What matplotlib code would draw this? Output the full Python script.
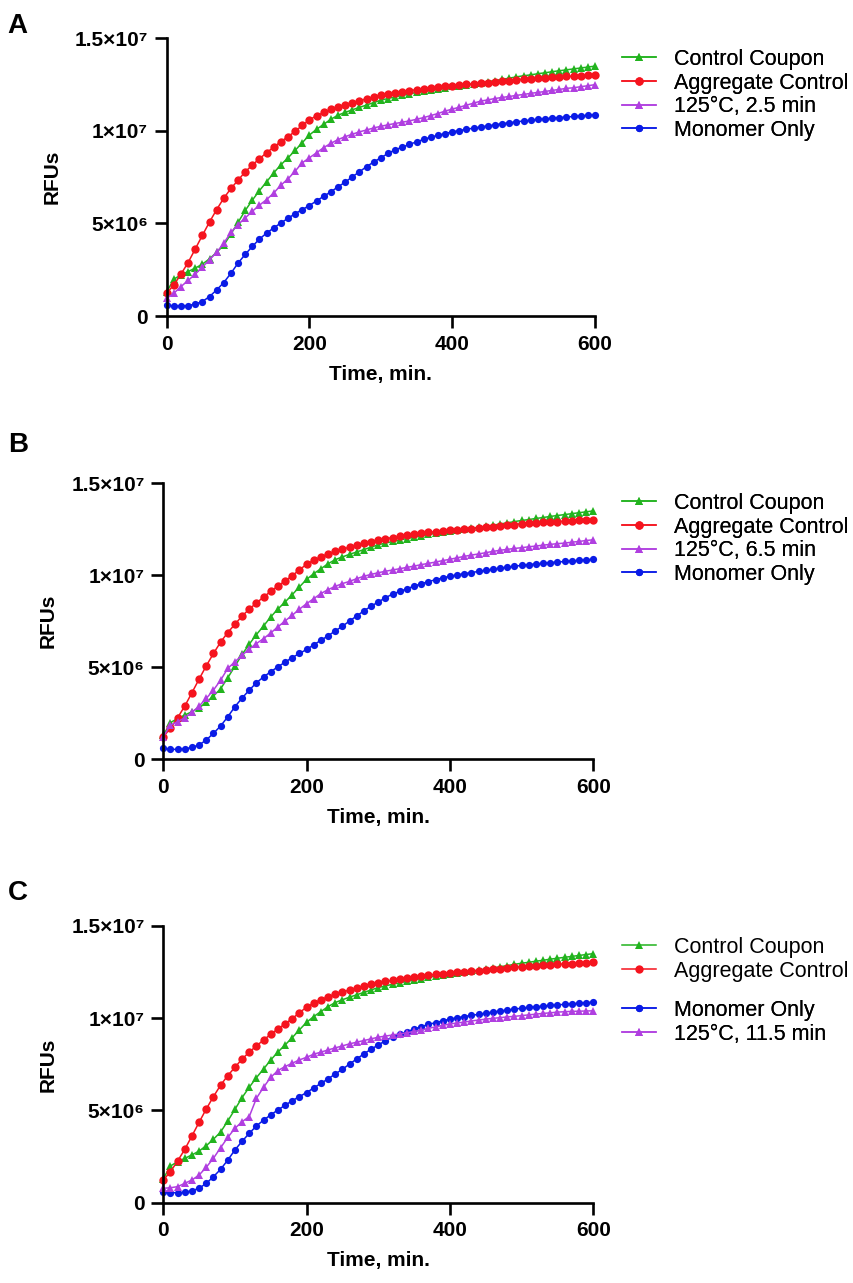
import matplotlib
matplotlib.use("Agg")
import matplotlib.pyplot as plt
import numpy as np

plt.rcParams["font.family"] = ["Liberation Sans", "DejaVu Sans"]

# time points, min
time = list(range(0, 601, 10))

# RFU values in units of 1e6
control_coupon = [1.30, 1.99, 2.22, 2.40, 2.59, 2.80, 3.09, 3.44, 3.83, 4.43,
                  5.06, 5.70, 6.26, 6.78, 7.25, 7.74, 8.17, 8.55, 8.95, 9.37,
                  9.78, 10.09, 10.36, 10.63, 10.85, 11.00, 11.14, 11.27, 11.40, 11.53,
                  11.66, 11.75, 11.84, 11.92, 12.00, 12.08, 12.15, 12.22, 12.28, 12.34,
                  12.40, 12.45, 12.50, 12.56, 12.61, 12.66, 12.72, 12.79, 12.85, 12.92,
                  12.98, 13.03, 13.09, 13.14, 13.20, 13.25, 13.30, 13.35, 13.40, 13.45,
                  13.50]
aggregate_control = [1.23, 1.68, 2.26, 2.89, 3.62, 4.36, 5.08, 5.75, 6.37, 6.89,
                     7.34, 7.79, 8.16, 8.50, 8.82, 9.13, 9.42, 9.69, 9.98, 10.30,
                     10.60, 10.82, 11.00, 11.16, 11.30, 11.42, 11.53, 11.63, 11.73, 11.83,
                     11.92, 11.99, 12.05, 12.11, 12.17, 12.23, 12.28, 12.33, 12.37, 12.41,
                     12.45, 12.48, 12.51, 12.54, 12.57, 12.60, 12.64, 12.68, 12.72, 12.75,
                     12.79, 12.82, 12.85, 12.87, 12.90, 12.92, 12.94, 12.96, 12.98, 13.00,
                     13.02]
monomer_only = [0.60, 0.54, 0.54, 0.56, 0.65, 0.78, 1.05, 1.41, 1.81, 2.31,
                2.86, 3.33, 3.76, 4.16, 4.48, 4.76, 5.03, 5.28, 5.53, 5.75,
                5.97, 6.22, 6.47, 6.71, 6.98, 7.23, 7.52, 7.79, 8.07, 8.32,
                8.55, 8.78, 8.98, 9.12, 9.27, 9.41, 9.54, 9.66, 9.76, 9.86,
                9.95, 10.02, 10.09, 10.15, 10.21, 10.27, 10.33, 10.39, 10.44, 10.49,
                10.54, 10.58, 10.62, 10.65, 10.69, 10.72, 10.75, 10.78, 10.81, 10.84,
                10.87]
heat_2_5 = [0.96, 1.23, 1.59, 1.92, 2.26, 2.64, 3.04, 3.44, 3.94, 4.52,
            4.94, 5.30, 5.66, 5.99, 6.29, 6.65, 7.07, 7.41, 7.83, 8.28,
            8.55, 8.82, 9.10, 9.33, 9.53, 9.69, 9.82, 9.95, 10.05, 10.16,
            10.25, 10.33, 10.40, 10.47, 10.54, 10.63, 10.72, 10.83, 10.94, 11.07,
            11.18, 11.28, 11.39, 11.50, 11.61, 11.68, 11.75, 11.81, 11.86, 11.92,
            11.97, 12.03, 12.08, 12.13, 12.19, 12.24, 12.30, 12.33, 12.39, 12.44,
            12.50]
heat_6_5 = [1.23, 1.86, 2.04, 2.26, 2.55, 2.89, 3.31, 3.76, 4.30, 4.94,
            5.30, 5.66, 5.99, 6.29, 6.56, 6.87, 7.20, 7.52, 7.83, 8.16,
            8.46, 8.73, 9.01, 9.22, 9.40, 9.55, 9.67, 9.82, 9.95, 10.05,
            10.14, 10.22, 10.29, 10.36, 10.43, 10.50, 10.58, 10.65, 10.72, 10.80,
            10.87, 10.95, 11.03, 11.10, 11.16, 11.23, 11.30, 11.36, 11.41, 11.46,
            11.50, 11.55, 11.59, 11.64, 11.68, 11.72, 11.75, 11.80, 11.84, 11.89,
            11.93]
heat_11_5 = [0.78, 0.81, 0.87, 1.05, 1.23, 1.50, 1.92, 2.41, 2.98, 3.54,
             4.03, 4.39, 4.67, 5.66, 6.26, 6.80, 7.16, 7.38, 7.56, 7.74,
             7.88, 8.05, 8.16, 8.28, 8.39, 8.50, 8.61, 8.70, 8.79, 8.88,
             8.97, 9.03, 9.09, 9.15, 9.21, 9.28, 9.36, 9.45, 9.53, 9.61,
             9.69, 9.74, 9.79, 9.85, 9.90, 9.95, 9.99, 10.03, 10.07, 10.10,
             10.14, 10.18, 10.22, 10.26, 10.29, 10.33, 10.35, 10.37, 10.38, 10.39,
             10.40]

x_ticks = [0, 200, 400, 600]
y_ticks = [0, 5e6, 1e7, 1.5e7]
y_tick_labels = ["0", "5\u00d710\u2076", "1\u00d710\u2077", "1.5\u00d710\u2077"]

GREEN = "#22B31E"
RED = "#F5141E"
PURPLE = "#B03FE0"
BLUE = "#0A1BE6"

styles = {
    "Control Coupon": (GREEN, "^", 6.0),
    "Aggregate Control": (RED, "o", 6.0),
    "Monomer Only": (BLUE, "o", 5.2),
}


def draw_panel(ax, series, letter, letter_y, legend_groups, legend_top):
    handles = {}
    for label, values in series:
        if label in styles:
            color, marker, ms = styles[label]
        else:
            color, marker, ms = PURPLE, "^", 6.0
        line, = ax.plot(time, np.array(values) * 1e6, color=color, marker=marker,
                        markersize=ms, markeredgewidth=0, linewidth=1.1,
                        clip_on=False, label=label)
        handles[label] = line

    ax.set_xlim(0, 600)
    ax.set_ylim(0, 1.5e7)
    ax.set_xticks(x_ticks)
    ax.set_yticks(y_ticks)
    ax.set_yticklabels(y_tick_labels)
    for lab in ax.get_xticklabels() + ax.get_yticklabels():
        lab.set_fontweight("bold")
        lab.set_fontsize(15)
    ax.tick_params(direction="out", length=8.5, width=1.9, pad=5)
    for s in ["top", "right"]:
        ax.spines[s].set_visible(False)
    for s in ["left", "bottom"]:
        ax.spines[s].set_linewidth(1.9)

    ax.set_xlabel("Time, min.", fontsize=15, fontweight="bold")
    ax.set_ylabel("RFUs", fontsize=15, fontweight="bold")
    ax.xaxis.set_label_coords(0.5, -0.175)
    ax.yaxis.set_label_coords(-0.245, 0.5)

    fig.text(0.009, letter_y, letter, fontsize=20, fontweight="bold",
             va="baseline", ha="left")

    top = legend_top
    for group, step in legend_groups:
        leg = ax.legend([handles[k] for k in group], group, loc="upper left",
                        bbox_to_anchor=(0.728, top), bbox_transform=fig.transFigure,
                        frameon=False, fontsize=15.5, handlelength=1.6,
                        handletextpad=0.85, labelspacing=0.12, borderpad=0,
                        borderaxespad=0, markerscale=1.0)
        ax.add_artist(leg)
        top -= step


fig = plt.figure(figsize=(8.54, 12.83), dpi=100)
axA = fig.add_axes([0.1952, 0.7537, 0.5015, 0.2164])
axB = fig.add_axes([0.1912, 0.4082, 0.5035, 0.2151])
axC = fig.add_axes([0.1912, 0.0626, 0.5035, 0.2157])

draw_panel(axA,
           [("Control Coupon", control_coupon), ("Aggregate Control", aggregate_control),
            ("125\u00b0C, 2.5 min", heat_2_5), ("Monomer Only", monomer_only)],
           "A", 1 - 33 / 1283,
           [(["Control Coupon", "Aggregate Control", "125\u00b0C, 2.5 min", "Monomer Only"], 0)],
           1 - 49 / 1283)
draw_panel(axB,
           [("Control Coupon", control_coupon), ("Aggregate Control", aggregate_control),
            ("125\u00b0C, 6.5 min", heat_6_5), ("Monomer Only", monomer_only)],
           "B", 1 - 452 / 1283,
           [(["Control Coupon", "Aggregate Control", "125\u00b0C, 6.5 min", "Monomer Only"], 0)],
           1 - 493 / 1283)
draw_panel(axC,
           [("Control Coupon", control_coupon), ("Aggregate Control", aggregate_control),
            ("Monomer Only", monomer_only), ("125\u00b0C, 11.5 min", heat_11_5)],
           "C", 1 - 900 / 1283,
           [(["Control Coupon", "Aggregate Control"], 63 / 1283),
            (["Monomer Only", "125\u00b0C, 11.5 min"], 0)],
           1 - 937 / 1283)

fig.savefig("out.png", dpi=100)
